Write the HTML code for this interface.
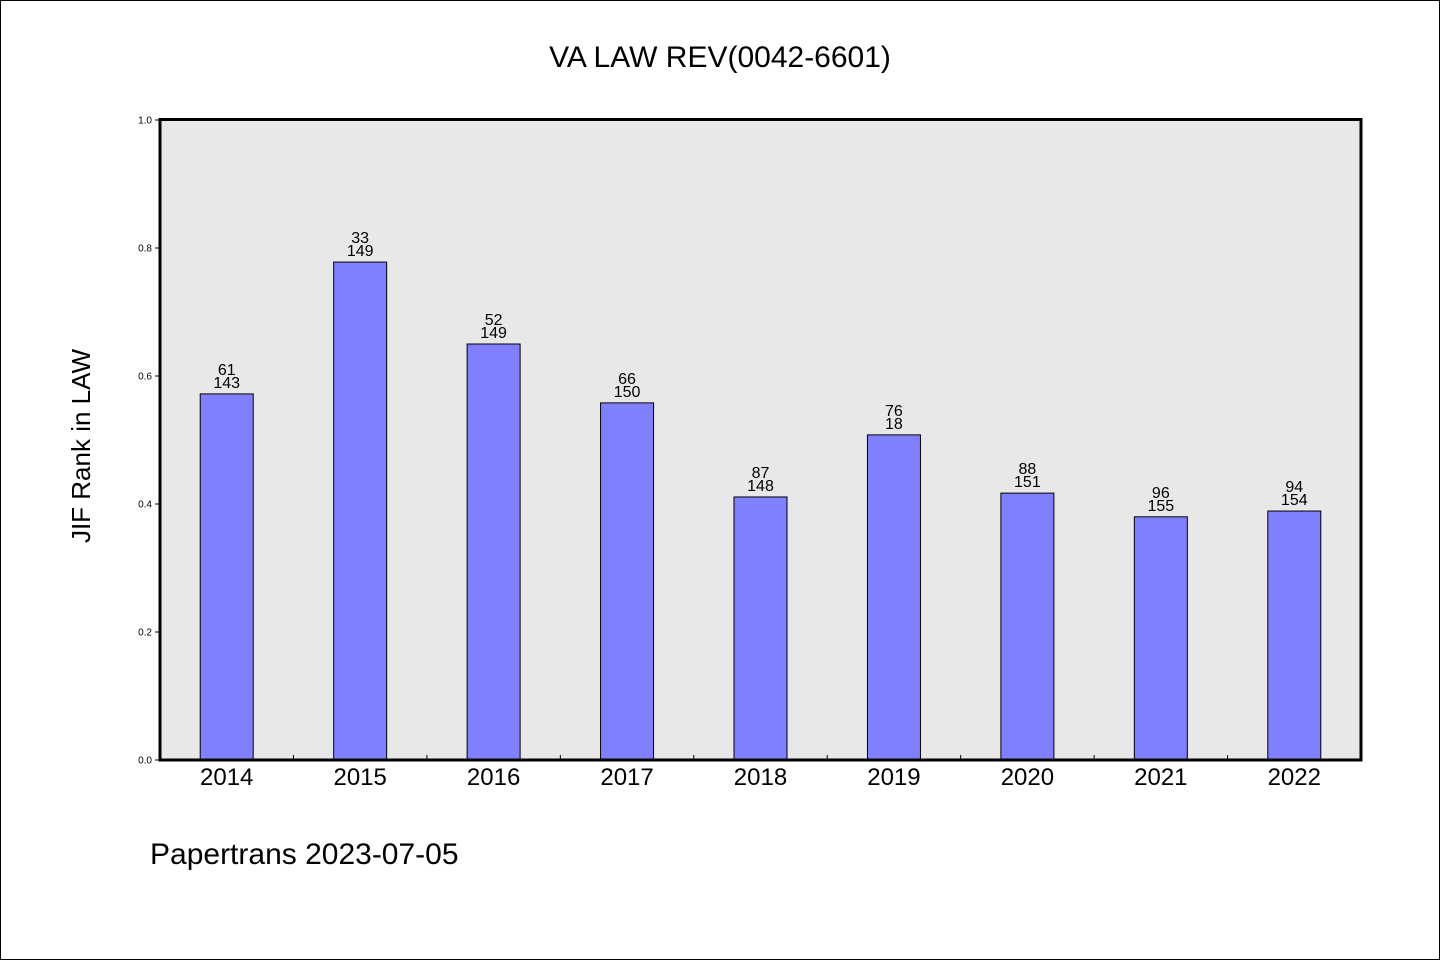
<!DOCTYPE html>
<html><head><meta charset="utf-8"><style>
html,body{margin:0;padding:0;background:#fff}
svg{display:block}
text{font-family:"WenQuanYi Zen Hei","Liberation Sans",sans-serif}
</style></head><body>
<svg id="chart" width="1440" height="960">
<rect x="0.5" y="0.5" width="1439" height="959" fill="#fff" stroke="#000"/>
<text x="720" y="67" text-anchor="middle" font-size="30">VA LAW REV(0042-6601)</text>
<rect x="160" y="119.5" width="1201" height="640.5" fill="#e8e8e8"/>
<g id="bars"></g>
<rect x="160" y="119.5" width="1201" height="640.5" fill="none" stroke="#000" stroke-width="3"/>
<text transform="translate(90,446) rotate(-90)" text-anchor="middle" font-size="26">JIF Rank in LAW</text>
<text x="150" y="864" font-size="30">Papertrans 2023-07-05</text>
</svg>
<script>
const categories=["2014","2015","2016","2017","2018","2019","2020","2021","2022"];
const values=[0.572,0.778,0.650,0.558,0.411,0.508,0.417,0.380,0.389];
const rankLabels=["61","33","52","66","87","76","88","96","94"];
const totalLabels=["143","149","149","150","148","18","151","155","154"];
const yTicks=[0,0.2,0.4,0.6,0.8,1.0];
const yTickLabels=["0.0","0.2","0.4","0.6","0.8","1.0"];
const NS="http://www.w3.org/2000/svg";
const x0=160,x1=1361,y0=760,y1=120;
const band=(x1-x0)/categories.length;
const xs=i=>x0+band*(i+0.5);
const ys=v=>y0-(y0-y1)*v;
const g=document.getElementById('bars');
function mk(t,a,p){const e=document.createElementNS(NS,t);for(const k in a)e.setAttribute(k,a[k]);(p||g).appendChild(e);return e;}
yTicks.forEach((v,i)=>{
 const l=mk('line',{x1:155,x2:160,y1:ys(v),y2:ys(v),stroke:'#000'});
 
 
 const t=mk('text',{x:152,y:ys(v)+3.5,'text-anchor':'end','font-size':10});
 t.textContent=yTickLabels[i];
 
 
});
categories.forEach((c,i)=>{
 const cx=xs(i),w=53,top=ys(values[i]);
 const r=mk('rect',{x:cx-w/2,y:top,width:w,height:y0-top,fill:'#8080ff',stroke:'#000','stroke-width':1});
 
 
 const t1=mk('text',{x:cx,y:top-19,'text-anchor':'middle','font-size':16});
 t1.textContent=rankLabels[i];
 
 
 const t2=mk('text',{x:cx,y:top-6,'text-anchor':'middle','font-size':16});
 t2.textContent=totalLabels[i];
 
 
 const xl=mk('text',{x:cx,y:785,'text-anchor':'middle','font-size':24});
 xl.textContent=c;
 
 
 if(i>0){const tk=mk('line',{x1:x0+band*i,x2:x0+band*i,y1:755,y2:760,stroke:'#000'});
 
 }
});
</script>
</body></html>
